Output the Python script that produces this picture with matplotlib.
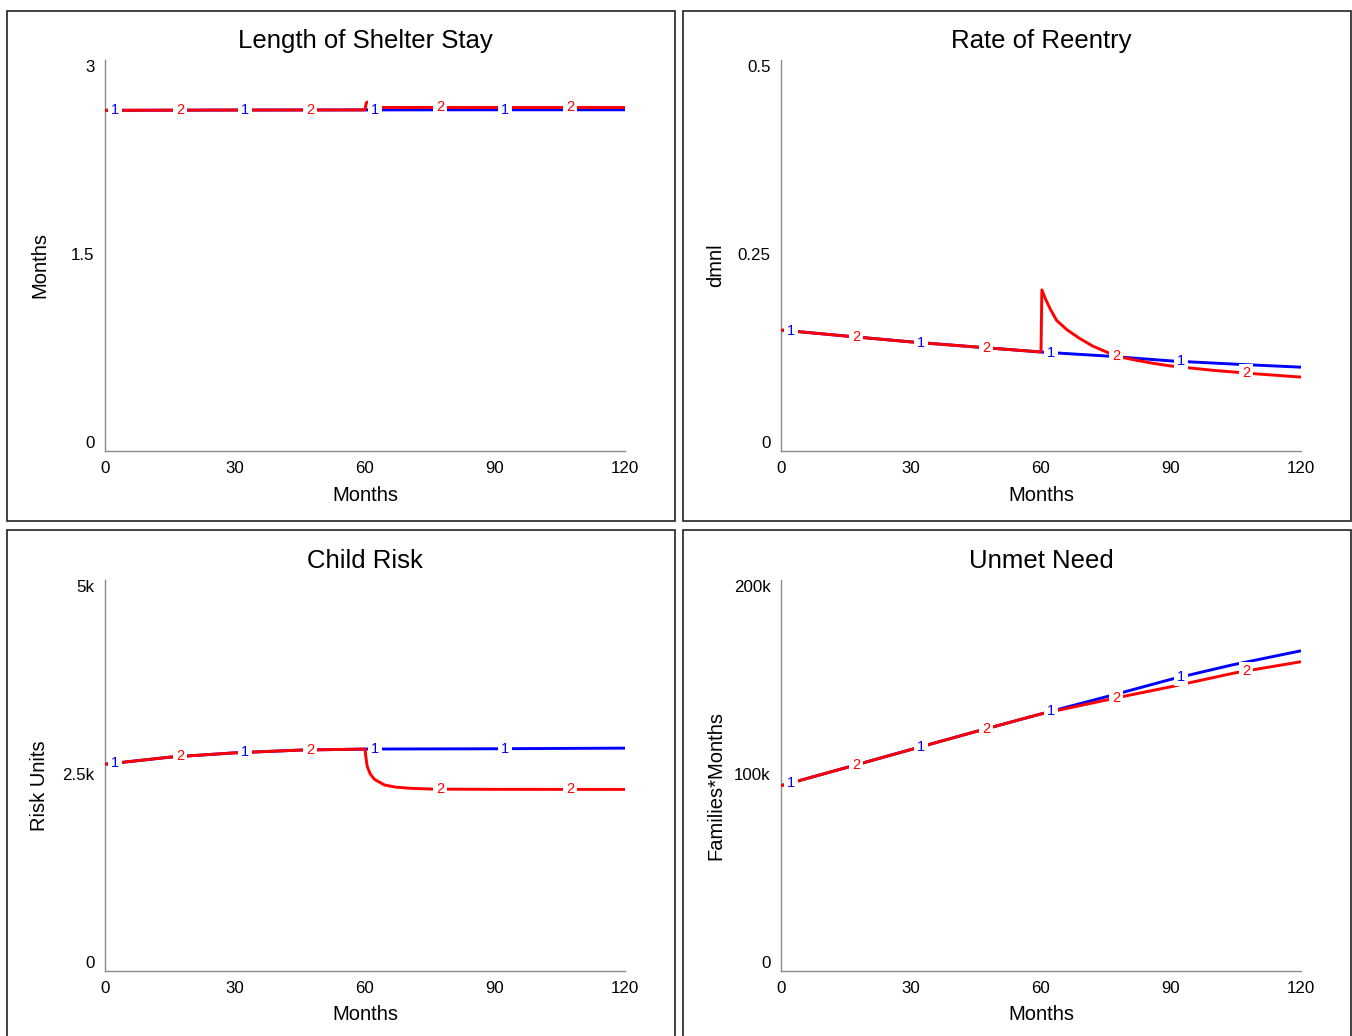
import numpy as np
import matplotlib.pyplot as plt
from matplotlib.patches import Rectangle

plt.rcParams['font.family'] = ['Liberation Sans', 'DejaVu Sans']

BLUE = "#0000ff"
RED = "#ff0000"

# ===== Datos =====
# Length of Shelter Stay [Months]
stay_t1 = [0, 30, 60, 90, 120]
stay_v1 = [2.614, 2.616, 2.617, 2.618, 2.618]
stay_t2 = [0, 30, 60, 60.3, 60.8, 61.5, 62.5, 90, 120]
stay_v2 = [2.614, 2.616, 2.617, 2.672, 2.68, 2.65, 2.636, 2.636, 2.636]

# Rate of Reentry [dmnl]
reentry_t1 = [0, 15, 30, 45, 60, 75, 90, 105, 120]
reentry_v1 = [0.1547, 0.1470, 0.1395, 0.1330, 0.1266, 0.1215, 0.1152, 0.1110, 0.1072]
reentry_t2 = [0, 15, 30, 45, 60, 60.2, 61, 62, 63.6, 66, 68.9, 72, 75.8, 78,
              82, 86, 90, 100, 110, 120]
reentry_v2 = [0.1547, 0.1470, 0.1395, 0.1330, 0.1266, 0.206, 0.195, 0.183, 0.167,
              0.155, 0.144, 0.134, 0.125, 0.1206, 0.116, 0.112, 0.1087, 0.103,
              0.0985, 0.0945]

# Child Risk [Risk Units]
risk_t1 = [0, 15, 30, 45, 60, 90, 120]
risk_v1 = [2644, 2735, 2790, 2825, 2838, 2842, 2850]
risk_t2 = [0, 15, 30, 45, 60, 60.15, 60.5, 61.2, 62.2, 64.5, 67, 70.2, 75.6, 90, 120]
risk_v2 = [2644, 2735, 2790, 2825, 2838, 2760, 2620, 2520, 2450, 2379, 2352, 2337,
           2326, 2323, 2322]

# Unmet Need [Families*Months]
need_t1 = [0, 15, 30, 45, 60, 78, 90, 104, 120]
need_v1 = [94800, 104000, 113300, 122500, 131500, 142000, 149200, 156500, 163800]
need_t2 = [0, 15, 30, 45, 60, 78, 90, 105, 120]
need_v2 = [94800, 104000, 113300, 122500, 131500, 140000, 145400, 152600, 158200]

x_ticks = [0, 30, 60, 90, 120]

panels = [
    ("Length of Shelter Stay", "Months", [0, 1.5, 3], ["0", "1.5", "3"],
     (stay_t1, stay_v1), (stay_t2, stay_v2)),
    ("Rate of Reentry", "dmnl", [0, 0.25, 0.5], ["0", "0.25", "0.5"],
     (reentry_t1, reentry_v1), (reentry_t2, reentry_v2)),
    ("Child Risk", "Risk Units", [0, 2500, 5000], ["0", "2.5k", "5k"],
     (risk_t1, risk_v1), (risk_t2, risk_v2)),
    ("Unmet Need", "Families*Months", [0, 100000, 200000], ["0", "100k", "200k"],
     (need_t1, need_v1), (need_t2, need_v2)),
]

W, H = 1352, 1036
fig = plt.figure(figsize=(W / 100, H / 100), dpi=100)

ax_px = [(105, 451), (781, 451), (105, 971), (781, 971)]   # esquina inferior izq. en px
frames = [(7, 11), (683, 11), (7, 530), (683, 530)]
AW, AH = 520, 391

label_times = [2.3 + 15 * k for k in range(8)]

for (title, ylab, yt, ytl, s1, s2), (lx, by), (fx, fy) in zip(panels, ax_px, frames):
    fig.patches.append(Rectangle((fx / W, 1 - (fy + 510) / H), 668 / W, 510 / H,
                                 transform=fig.transFigure, fill=False,
                                 edgecolor="#222222", linewidth=1.2, zorder=0))
    ax = fig.add_axes([lx / W, 1 - by / H, AW / W, AH / H])
    ax.plot(s1[0], s1[1], color=BLUE, lw=2.1, zorder=2, solid_capstyle="butt")
    ax.plot(s2[0], s2[1], color=RED, lw=2.1, zorder=3, solid_capstyle="butt")
    for k, tl in enumerate(label_times):
        tt, vv, col, txt = (s1[0], s1[1], BLUE, "1") if k % 2 == 0 else (s2[0], s2[1], RED, "2")
        ax.text(tl, np.interp(tl, tt, vv), txt, color=col, fontsize=10.5,
                ha="center", va="center", zorder=5,
                bbox=dict(facecolor="white", edgecolor="none", pad=1.8))
    ax.set_xlim(0, 120)
    ax.set_ylim(yt[0], yt[-1])
    ax.set_xticks(x_ticks)
    ax.set_xticklabels([str(v) for v in x_ticks])
    ax.set_yticks(yt)
    ax.set_yticklabels(ytl)
    for lab, va in zip(ax.get_yticklabels(), ["bottom", "center", "top"]):
        lab.set_va(va)
    ax.tick_params(length=0, labelsize=12.2)
    ax.tick_params(axis="y", pad=7.5)
    ax.tick_params(axis="x", pad=7.5)
    for side in ["top", "right"]:
        ax.spines[side].set_visible(False)
    for side in ["left", "bottom"]:
        ax.spines[side].set_color("#8c8c8c")
        ax.spines[side].set_linewidth(1.0)
    ax.text(0.5, 1 + 19 / AH, title, transform=ax.transAxes, ha="center",
            va="center", fontsize=18.5)
    ax.text(0.5, -44 / AH, "Months", transform=ax.transAxes, ha="center",
            va="center", fontsize=14.5)
    ax.text(-65 / AW, 0.475, ylab, transform=ax.transAxes, ha="center",
            va="center", rotation=90, fontsize=14.5)

plt.savefig("out.png", dpi=100)
